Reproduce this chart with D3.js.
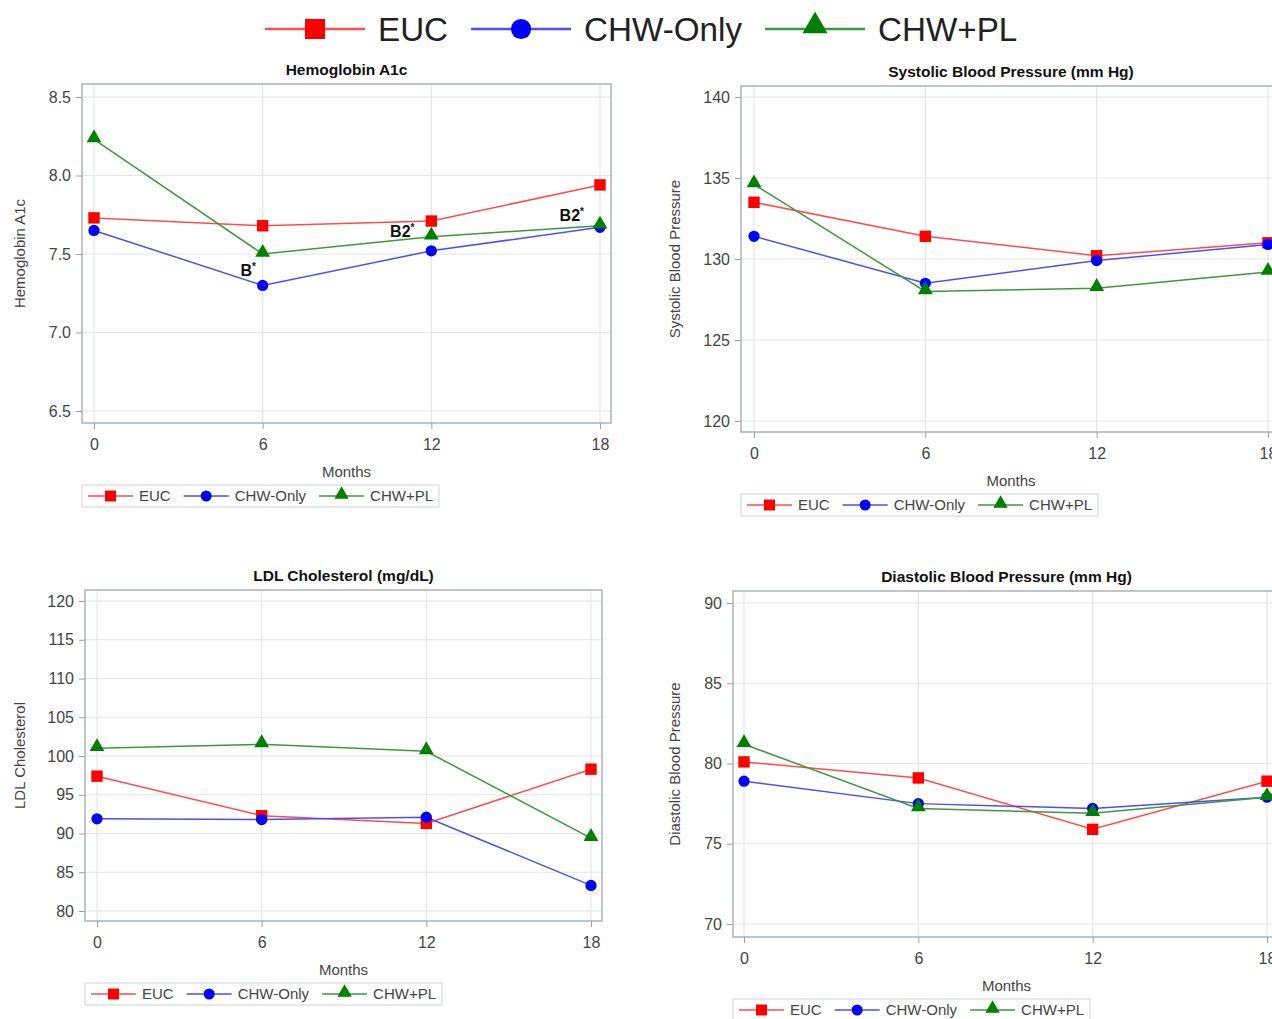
<!DOCTYPE html>
<html>
<head>
<meta charset="utf-8">
<script src="https://cdn.jsdelivr.net/npm/d3@7"></script>
<style>
  body { margin: 0; background: #fff; }
  svg { display: block; font-family: "Liberation Sans", Arial, sans-serif; }
</style>
</head>
<body>
<svg id="chart" width="1272" height="1019"></svg>
<script>
// Data
const months = [0, 6, 12, 18];
const groups = ["EUC", "CHW-Only", "CHW+PL"];

const a1cTicks = [6.5, 7.0, 7.5, 8.0, 8.5];
const a1cEUC = [7.73, 7.68, 7.71, 7.94];
const a1cCHW = [7.65, 7.30, 7.52, 7.67];
const a1cPL = [8.23, 7.50, 7.61, 7.68];
const a1cNotes = [
  { month: 5.76, value: 7.36, label: "B" },
  { month: 11.4, value: 7.61, label: "B2" },
  { month: 17.43, value: 7.71, label: "B2" }
];

const sbpTicks = [120, 125, 130, 135, 140];
const sbpEUC = [133.5, 131.4, 130.2, 131.0];
const sbpCHW = [131.4, 128.5, 129.9, 130.9];
const sbpPL = [134.6, 128.0, 128.2, 129.2];

const ldlTicks = [80, 85, 90, 95, 100, 105, 110, 115, 120];
const ldlEUC = [97.4, 92.3, 91.3, 98.3];
const ldlCHW = [91.9, 91.8, 92.1, 83.3];
const ldlPL = [101.0, 101.5, 100.6, 89.4];

const dbpTicks = [70, 75, 80, 85, 90];
const dbpEUC = [80.1, 79.1, 75.9, 78.9];
const dbpCHW = [78.9, 77.5, 77.2, 77.9];
const dbpPL = [81.2, 77.2, 76.9, 77.9];

// Styles per group
const lineColors = ["#ff4d4d", "#4d4dff", "#3c9a3c"];
const markColors = ["#ff0000", "#0000ff", "#008000"];
const symbols = [d3.symbolSquare, d3.symbolCircle, d3.symbolTriangle];
const markSize = [130, 100, 95];

const svg = d3.select("#chart");

// Panel layout (pixel frames)
const panels = [
  { title: "Hemoglobin A1c", yLabel: "Hemoglobin A1c", ticks: a1cTicks, fmt: d3.format(".1f"),
    series: [a1cEUC, a1cCHW, a1cPL], notes: a1cNotes,
    frame: { l: 82, r: 611, t: 84, b: 423 }, xr: [94, 600], yr: [411, 97], yLabX: 20 },
  { title: "Systolic Blood Pressure (mm Hg)", yLabel: "Systolic Blood Pressure", ticks: sbpTicks, fmt: d3.format("d"),
    series: [sbpEUC, sbpCHW, sbpPL], notes: [],
    frame: { l: 741, r: 1281, t: 86, b: 432 }, xr: [754, 1268], yr: [421, 97], yLabX: 675 },
  { title: "LDL Cholesterol (mg/dL)", yLabel: "LDL Cholesterol", ticks: ldlTicks, fmt: d3.format("d"),
    series: [ldlEUC, ldlCHW, ldlPL], notes: [],
    frame: { l: 85, r: 602, t: 590, b: 921 }, xr: [97, 591], yr: [911, 601], yLabX: 20 },
  { title: "Diastolic Blood Pressure (mm Hg)", yLabel: "Diastolic Blood Pressure", ticks: dbpTicks, fmt: d3.format("d"),
    series: [dbpEUC, dbpCHW, dbpPL], notes: [],
    frame: { l: 733, r: 1280, t: 591, b: 937 }, xr: [744, 1267], yr: [924, 603], yLabX: 675 }
];

function drawLegend(g, x, y, opts) {
  // legend row: line + marker + label for each group
  const item = g.append("g").attr("transform", `translate(${x},${y})`);
  let cx = opts.pad;
  groups.forEach((name, i) => {
    item.append("line")
      .attr("x1", cx).attr("x2", cx + opts.lineLen)
      .attr("y1", 0).attr("y2", 0)
      .attr("stroke", lineColors[i]).attr("stroke-width", opts.lw);
    item.append("path")
      .attr("d", d3.symbol(symbols[i], opts.sizes[i])())
      .attr("transform", `translate(${cx + opts.lineLen / 2},${i === 2 ? opts.triDy : 0})`)
      .attr("fill", markColors[i]);
    const t = item.append("text")
      .attr("x", cx + opts.lineLen + opts.textGap)
      .attr("y", 0)
      .attr("dy", "0.36em")
      .attr("font-size", opts.fs)
      .attr("fill", opts.color)
      .text(name);
    cx += opts.lineLen + opts.textGap + t.node().getComputedTextLength() + opts.itemGap;
  });
  return cx - opts.itemGap + opts.pad;
}

panels.forEach(p => {
  const f = p.frame;
  const g = svg.append("g");
  const x = d3.scaleLinear().domain([0, 18]).range(p.xr);
  const y = d3.scaleLinear().domain([p.ticks[0], p.ticks[p.ticks.length - 1]]).range(p.yr);

  // gridlines
  g.append("g").selectAll("line.h").data(p.ticks).join("line")
    .attr("x1", f.l).attr("x2", f.r)
    .attr("y1", d => y(d)).attr("y2", d => y(d))
    .attr("stroke", "#e6e6e6").attr("stroke-width", 1.2);
  g.append("g").selectAll("line.v").data(months).join("line")
    .attr("y1", f.t).attr("y2", f.b)
    .attr("x1", d => x(d)).attr("x2", d => x(d))
    .attr("stroke", "#e6e6e6").attr("stroke-width", 1.2);

  // frame
  g.append("rect")
    .attr("x", f.l).attr("y", f.t)
    .attr("width", f.r - f.l).attr("height", f.b - f.t)
    .attr("fill", "none").attr("stroke", "#aab2b6").attr("stroke-width", 1.5);

  // axes
  const yAxis = g.append("g").attr("transform", `translate(${f.l},0)`)
    .call(d3.axisLeft(y).tickValues(p.ticks).tickFormat(p.fmt).tickSize(6).tickPadding(5));
  const xAxis = g.append("g").attr("transform", `translate(0,${f.b})`)
    .call(d3.axisBottom(x).tickValues(months).tickFormat(d3.format("d")).tickSize(6).tickPadding(10));
  [yAxis, xAxis].forEach(a => {
    a.select(".domain").remove();
    a.selectAll(".tick line").attr("stroke", "#9aa2a6");
    a.selectAll(".tick text")
      .attr("font-size", 16)
      .attr("font-family", "Liberation Sans, Arial, sans-serif")
      .attr("fill", "#444");
  });

  // title and axis labels
  g.append("text")
    .attr("x", (f.l + f.r) / 2).attr("y", f.t - 9)
    .attr("text-anchor", "middle")
    .attr("font-size", 15.5).attr("font-weight", "bold").attr("fill", "#111")
    .text(p.title);
  g.append("text")
    .attr("x", (f.l + f.r) / 2).attr("y", f.b + 54)
    .attr("text-anchor", "middle")
    .attr("font-size", 15).attr("fill", "#444")
    .text("Months");
  g.append("text")
    .attr("transform", `translate(${p.yLabX},${(f.t + f.b) / 2}) rotate(-90)`)
    .attr("text-anchor", "middle")
    .attr("dy", "0.36em")
    .attr("font-size", 15).attr("fill", "#444")
    .text(p.yLabel);

  // series
  const line = d3.line().x((d, i) => x(months[i])).y(d => y(d));
  p.series.forEach((vals, i) => {
    g.append("path")
      .attr("d", line(vals))
      .attr("fill", "none")
      .attr("stroke", lineColors[i])
      .attr("stroke-width", 1.5);
  });
  p.series.forEach((vals, i) => {
    g.append("g").selectAll("path").data(vals).join("path")
      .attr("d", d3.symbol(symbols[i], markSize[i])())
      .attr("transform", (d, j) => `translate(${x(months[j])},${y(d) + (i === 2 ? -1.5 : 0)})`)
      .attr("fill", markColors[i]);
  });

  // annotations
  p.notes.forEach(n => {
    const t = g.append("text")
      .attr("x", x(n.month)).attr("y", y(n.value))
      .attr("text-anchor", "end")
      .attr("font-size", 16).attr("font-weight", "bold").attr("fill", "#111");
    t.append("tspan").text(n.label);
    t.append("tspan").attr("font-size", 10).attr("dy", -6).text("*");
  });

  // legend box
  const lg = g.append("g");
  const box = lg.append("rect");
  const w = drawLegend(lg, f.l, f.b + 73, {
    pad: 6, lineLen: 45, textGap: 6, itemGap: 13, lw: 1.5, fs: 15, color: "#444",
    sizes: [120, 95, 90], triDy: -1.5
  });
  box.attr("x", f.l).attr("y", f.b + 62).attr("width", w).attr("height", 22)
    .attr("fill", "#fff").attr("stroke", "#d8dcde").attr("stroke-width", 1.2);
});

// top legend
drawLegend(svg.append("g"), 259, 29, {
  pad: 6, lineLen: 100, textGap: 13, itemGap: 23, lw: 2.5, fs: 33.2, color: "#222",
  sizes: [400, 320, 270], triDy: -3
});
</script>
</body>
</html>
